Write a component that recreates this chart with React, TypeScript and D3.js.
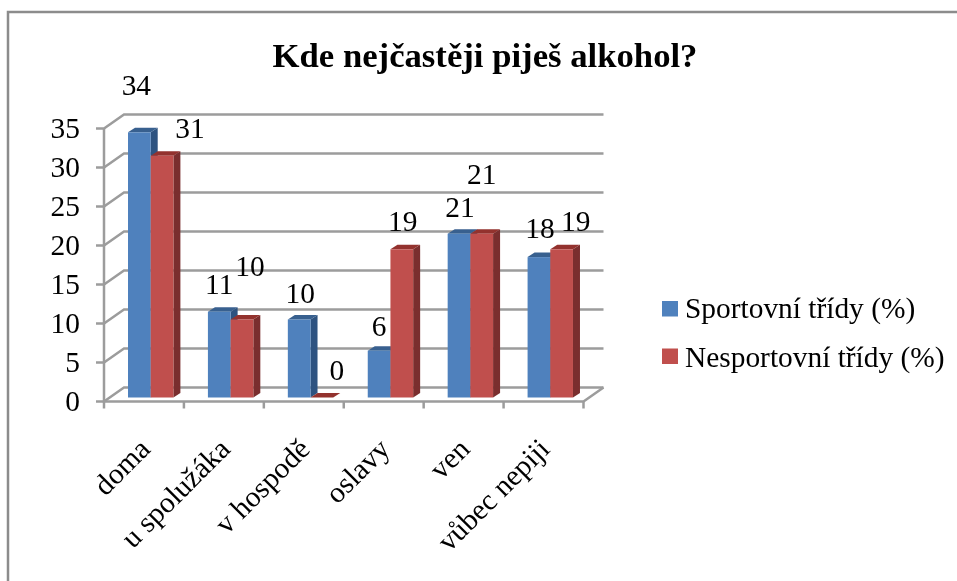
import React from "react";
import * as d3 from "d3";

const categories = ["doma", "u spolužáka", "v hospodě", "oslavy", "ven", "vůbec nepiji"];
const sportovni = [34, 11, 10, 6, 21, 18];
const nesportovni = [31, 10, 0, 19, 21, 19];
const seriesNames = ["Sportovní třídy (%)", "Nesportovní třídy (%)"];
const yTicks = [0, 5, 10, 15, 20, 25, 30, 35];
const title = "Kde nejčastěji piješ alkohol?";

// hand-placed label anchors, as in the original chart: [dx from bar centre, dy from bar top]
const sportLabelOffset = [[-3, -37], [0, -18], [1, -17], [0, -15], [1, -17], [1, -19]];
const nesportLabelOffset = [[28, -18], [8, -44], [15, -18], [1, -18], [0, -50], [14, -18]];

const BLUE = { front: "#4F81BD", side: "#2F5380", top: "#38608F" };
const RED = { front: "#C0504D", side: "#7A2F2D", top: "#93332F" };
const GRID = "#9C9C9C";
const FONT = "'Liberation Serif','Times New Roman',serif";
const LABEL = 29.4;

const y = d3.scaleLinear().domain([0, 35]).range([401.5, 128.5]);
const x = d3.scaleBand<string>().domain(categories).range([104, 583.5]);
const DX = 20, DY = -14;
const BAR_W = 22.7, SIDE = 7, TOP = 4.5, BASE_SHIFT = -4;
const Y0 = y(0);

function Bar({ bx, value, c }: { bx: number; value: number; c: typeof BLUE }) {
  const base = Y0 + BASE_SHIFT;
  const t = base - (Y0 - y(value));
  const sidePts = [[bx + BAR_W, t], [bx + BAR_W + SIDE, t - TOP], [bx + BAR_W + SIDE, base - TOP], [bx + BAR_W, base]];
  const topPts = [[bx, t], [bx + SIDE, t - TOP], [bx + BAR_W + SIDE, t - TOP], [bx + BAR_W, t]];
  return (
    <g>
      <polygon points={sidePts.join(" ")} fill={c.side} />
      <polygon points={topPts.join(" ")} fill={c.top} />
      <rect x={bx} y={t} width={BAR_W} height={base - t} fill={c.front} />
    </g>
  );
}

export default function App() {
  const xEnd = x.range()[1];
  return (
    <svg width={957} height={581} style={{ position: "absolute", left: 0, top: 0, background: "#fff" }}>
      <defs>
        <filter id="soft" x="-2%" y="-2%" width="104%" height="104%">
          <feGaussianBlur stdDeviation="0.55" />
        </filter>
      </defs>
      <g filter="url(#soft)">
        <path d="M8 581V12H957" fill="none" stroke="#8C8C8C" strokeWidth={2.5} />

        <text x={485} y={67} textAnchor="middle" fontFamily={FONT} fontWeight="bold" fontSize={34.7} fill="#000">{title}</text>

        {yTicks.map((t) => (
          <g key={t} stroke={GRID} strokeWidth={2.5} fill="none">
            <path d={`M${x.range()[0] - 8} ${y(t)}H${x.range()[0]}L${x.range()[0] + DX} ${y(t) + DY}H${xEnd + DX}`} />
          </g>
        ))}
        <path d={`M${x.range()[0]} ${y(35)}V${Y0}H${xEnd}L${xEnd + DX} ${Y0 + DY}`} stroke={GRID} strokeWidth={2.5} fill="none" />
        {x.domain().concat("end").map((c, i) => {
          const px = x.range()[0] + i * x.step();
          return <line key={c} x1={px} x2={px} y1={Y0} y2={Y0 + 7} stroke={GRID} strokeWidth={2.5} />;
        })}

        {yTicks.map((t) => (
          <text key={t} x={80} y={y(t) + 9.5} textAnchor="end" fontFamily={FONT} fontSize={LABEL} fill="#000">{t}</text>
        ))}

        {categories.map((c, i) => {
          const start = (x(c) as number) + 24;
          return (
            <g key={c}>
              <Bar bx={start} value={sportovni[i]} c={BLUE} />
              <Bar bx={start + BAR_W} value={nesportovni[i]} c={RED} />
              <text x={start + BAR_W / 2 + sportLabelOffset[i][0]} y={Y0 + BASE_SHIFT - (Y0 - y(sportovni[i])) + sportLabelOffset[i][1]} textAnchor="middle" fontFamily={FONT} fontSize={LABEL} fill="#000">{sportovni[i]}</text>
              <text x={start + BAR_W * 1.5 + nesportLabelOffset[i][0]} y={Y0 + BASE_SHIFT - (Y0 - y(nesportovni[i])) + nesportLabelOffset[i][1]} textAnchor="middle" fontFamily={FONT} fontSize={LABEL} fill="#000">{nesportovni[i]}</text>
              <text transform={`translate(${(x(c) as number) + 33},${436}) rotate(-45)`} textAnchor="end" dominantBaseline="hanging" fontFamily={FONT} fontSize={LABEL} fill="#000">{c}</text>
            </g>
          );
        })}

        {seriesNames.map((s, i) => (
          <g key={s}>
            <rect x={662} y={301 + i * 47.5} width={16} height={15.5} fill={i === 0 ? BLUE.front : RED.front} />
            <text x={685} y={318 + i * 48.5} fontFamily={FONT} fontSize={LABEL} fill="#000">{s}</text>
          </g>
        ))}
      </g>
    </svg>
  );
}
